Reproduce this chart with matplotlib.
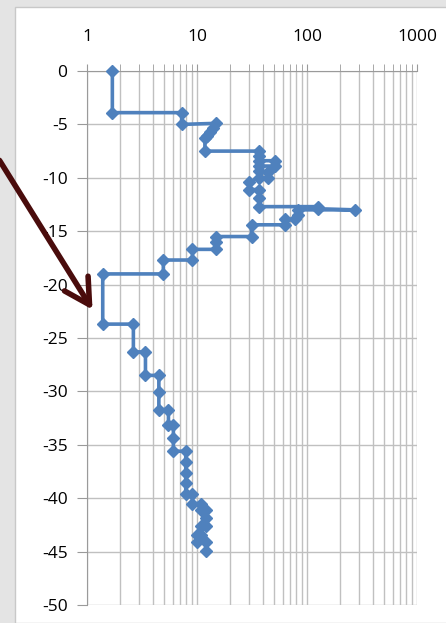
import numpy as np
import matplotlib
matplotlib.use('Agg')
import matplotlib.pyplot as plt
from matplotlib.patches import Rectangle, FancyArrowPatch
from matplotlib.ticker import LogLocator, FixedLocator, NullFormatter

plt.rcParams['font.family'] = ['Open Sans', 'DejaVu Sans']
plt.rcParams['axes.unicode_minus'] = False

# values (x on log scale, depth as negative y)
x_vals = [1.7, 1.7, 7.26, 7.26, 15.0, 14.0, 13.0, 12.3, 11.8, 11.8,
          36.8, 36.8, 36.8, 51.0, 51.0, 36.8, 36.8, 44.0, 44.0, 36.8,
          30.0, 30.0, 36.8, 36.8, 36.8, 127.0, 127.0, 273.0, 83.0, 83.0,
          78.0, 63.0, 63.0, 31.3, 31.3, 14.9, 14.9, 14.9, 9.1, 9.1,
          4.94, 4.94, 1.39, 1.39, 2.64, 2.64, 3.4, 3.4, 4.5, 4.5,
          4.5, 5.5, 5.5, 6.1, 6.1, 6.1, 7.9, 7.9, 7.9, 7.9,
          7.9, 9.1, 9.1, 10.8, 10.8, 12.0, 12.0, 12.0, 10.8, 9.9,
          10.8, 9.9, 12.0, 12.0]
y_vals = [0.0, -3.9, -3.9, -5.0, -4.9, -5.3, -5.7, -6.1, -6.3, -7.5,
          -7.5, -8.0, -8.4, -8.4, -8.9, -8.9, -9.4, -9.5, -10.0, -10.0,
          -10.4, -11.1, -11.1, -11.9, -12.7, -12.7, -12.9, -13.0, -13.0, -13.5,
          -13.9, -13.9, -14.4, -14.4, -15.5, -15.5, -16.0, -16.7, -16.7, -17.7,
          -17.7, -19.0, -19.0, -23.7, -23.7, -26.3, -26.3, -28.5, -28.5, -30.1,
          -31.7, -31.7, -33.1, -33.1, -34.4, -35.6, -35.6, -36.6, -37.6, -38.6,
          -39.6, -39.6, -40.5, -40.5, -41.1, -41.1, -41.9, -42.6, -42.6, -43.4,
          -43.4, -44.1, -44.1, -44.9]
x_ticks = [1, 10, 100, 1000]
y_ticks = list(range(0, -55, -5))

W, H = 446, 623
fig = plt.figure(figsize=(W / 100, H / 100), dpi=100)
fig.patch.set_facecolor('#e4e4e4')

# white slide panel behind the chart
fig.patches.append(Rectangle((15 / W, 0), 1, 1 - 7 / H, transform=fig.transFigure,
                             facecolor='white', edgecolor='#c8c8c8', lw=1, zorder=-5))

ax = fig.add_axes([87 / W, 1 - 605 / H, (417 - 87) / W, (605 - 71) / H])
ax.set_zorder(1)
ax.set_facecolor('white')
ax.set_xscale('log')
ax.set_xlim(1, 1000)
ax.set_ylim(-50, 0)

ax.xaxis.set_major_locator(FixedLocator(x_ticks))
ax.xaxis.set_minor_locator(LogLocator(base=10, subs=np.arange(2, 10)))
ax.xaxis.set_minor_formatter(NullFormatter())
ax.set_xticklabels([str(t) for t in x_ticks])
ax.set_yticks(y_ticks)

ax.xaxis.tick_top()
ax.tick_params(axis='x', which='both', direction='out', length=5, color='#9a9a9a',
               labelsize=12.5, pad=14)
ax.tick_params(axis='y', direction='out', length=7, color='#9a9a9a', labelsize=12.5, pad=7)

ax.grid(True, which='both', axis='x', color='#c0c0c0', lw=1)
ax.grid(True, which='major', axis='y', color='#c0c0c0', lw=1)
ax.set_axisbelow(True)

for s in ['right', 'bottom']:
    ax.spines[s].set_visible(False)
for s in ['left', 'top']:
    ax.spines[s].set_color('#9a9a9a')

ax.plot(x_vals, y_vals, color='#4f81bd', lw=2.6, marker='D', markersize=6.5,
        markerfacecolor='#4f81bd', markeredgecolor='#4f81bd', clip_on=False, zorder=3)

# arrow pointing at the low value zone
arr = FancyArrowPatch((-2 / W, 1 - 158 / H), (94 / W, 1 - 312 / H),
                      transform=fig.transFigure, arrowstyle='->,head_length=18,head_width=10',
                      color='#4a0c0c', lw=4, mutation_scale=1, zorder=5)
fig.patches.append(arr)

fig.savefig('out.png', dpi=100, facecolor=fig.get_facecolor())
